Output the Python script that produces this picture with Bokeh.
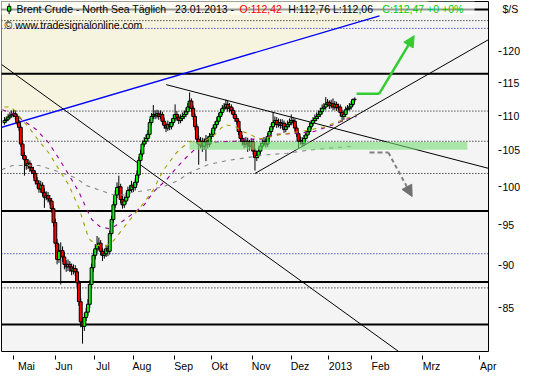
from bokeh.plotting import figure
from bokeh.models import (Range1d, FixedTicker, CustomJSTickFormatter, Label, Arrow,
                          NormalHead)
from bokeh.embed import file_html
from bokeh.resources import INLINE

# ---------------- data ----------------
first_open = 109.0
closes = [109.3,109.5,109.8,110.0,110.2,110.3,109.9,109.0,108.3,105.9,
          104.3,103.7,102.9,103.2,102.6,102.2,101.8,100.8,100.4,99.7,
          100.2,99.2,98.6,98.8,98.4,98.1,97.1,95.3,92.7,90.7,
          91.7,91.8,91.0,90.1,89.8,90.1,89.8,89.3,89.6,89.2,
          87.9,85.7,83.4,82.9,83.9,84.5,85.4,87.7,89.7,91.2,
          92.0,92.4,92.7,91.7,91.2,91.4,92.0,91.7,93.9,95.7,
          97.6,98.9,99.9,100.0,98.3,97.6,98.1,98.6,99.5,99.6,
          100.2,99.9,100.6,101.6,103.6,104.5,105.9,106.3,106.7,107.3,
          109.0,109.9,110.2,110.0,110.3,109.9,110.2,109.2,108.6,108.2,
          108.7,108.4,109.0,109.6,110.2,109.8,109.3,109.6,109.9,110.2,
          110.6,111.3,112.2,111.1,109.9,108.4,106.6,105.9,106.3,105.6,
          106.2,106.6,105.9,107.0,107.3,108.2,108.7,109.2,109.9,110.5,
          111.1,111.3,111.7,111.1,111.3,110.8,110.2,109.6,109.2,107.7,
          106.7,106.3,105.9,106.3,106.0,105.6,106.2,104.9,104.0,104.3,
          104.9,105.6,106.0,106.3,105.9,107.0,107.7,108.4,109.0,109.3,
          108.7,109.0,108.6,108.9,108.0,108.4,108.7,109.0,109.3,109.2,
          108.2,107.4,106.3,106.4,106.0,106.7,107.2,107.7,108.4,108.9,
          109.3,109.6,109.9,110.2,110.6,111.1,111.3,111.7,112.0,111.5,
          111.8,111.3,111.7,111.2,111.3,110.5,109.9,110.2,110.9,111.1,
          111.3,111.7,112.42,112.47]
highs = [109.8,109.9,110.3,110.6,110.8,111.0,110.8,110.3,109.4,108.6,
         106.4,104.8,104.2,103.8,103.6,103.0,102.7,102.2,101.3,100.9,
         100.8,100.6,99.8,99.4,99.3,98.9,98.5,97.5,95.8,93.2,
         92.6,92.8,92.3,91.6,90.6,90.7,90.5,90.2,90.1,90.0,
         89.6,88.2,86.1,83.9,84.4,85.0,86.0,88.2,90.2,91.8,
         92.6,93.6,93.4,93.1,92.1,92.0,92.5,92.4,94.3,96.2,
         98.1,99.5,100.6,101.5,100.4,98.8,98.7,99.2,100.0,100.2,
         100.8,100.6,101.1,102.2,104.1,105.1,106.4,106.9,107.3,107.9,
         109.5,110.4,111.6,110.8,110.9,110.8,110.8,110.6,109.7,109.0,
         109.3,109.1,109.6,110.2,111.7,110.7,110.2,110.2,110.5,110.8,
         111.2,111.9,113.5,112.6,111.5,110.3,108.8,107.1,106.9,106.8,
         106.7,107.2,107.0,107.5,107.9,108.7,109.2,109.8,110.4,111.0,
         111.6,111.9,112.4,112.2,111.9,111.7,111.2,110.6,110.0,109.6,
         108.1,107.2,106.8,106.9,106.8,106.5,106.7,106.6,105.3,105.0,
         105.4,106.1,106.6,106.9,106.8,107.5,108.2,109.0,110.6,109.9,
         109.8,109.6,109.5,109.5,109.3,109.0,109.3,109.6,110.2,109.8,
         109.6,108.6,107.8,107.0,106.9,107.2,107.7,108.2,109.0,109.4,
         109.8,110.2,110.5,110.8,111.2,111.7,111.9,112.8,112.5,112.3,
         112.4,112.6,112.2,112.1,111.8,111.7,110.9,110.7,111.4,111.6,
         111.9,112.2,112.6,112.76]
lows = [108.7,109.0,109.2,109.5,109.7,109.8,109.4,108.6,107.8,105.5,
        103.8,101.5,102.3,102.4,102.0,101.7,101.2,100.3,99.8,99.2,
        99.2,98.7,97.2,98.2,97.9,97.6,96.6,94.8,92.2,90.1,
        90.3,87.7,90.4,89.5,89.2,89.3,89.2,88.8,88.9,88.7,
        87.4,85.2,82.8,81.0,82.4,83.5,84.1,85.0,87.3,89.2,
        90.7,91.5,91.8,91.2,90.5,90.8,91.0,91.1,91.3,93.5,
        95.3,97.2,98.5,99.3,97.8,97.1,97.2,97.7,98.2,99.0,
        99.2,99.3,99.5,100.2,101.2,103.2,104.1,105.5,105.9,106.3,
        106.9,108.6,109.5,109.5,109.6,109.4,109.5,108.7,108.1,107.6,
        107.8,107.9,108.0,108.6,109.2,109.3,108.8,108.9,109.2,109.5,
        109.8,110.2,110.9,110.6,109.4,107.9,106.0,103.0,105.3,104.8,
        105.1,103.5,105.3,105.5,106.6,106.9,107.8,108.3,108.8,109.5,
        110.1,110.7,110.9,110.6,110.5,110.3,109.7,109.1,108.7,107.2,
        106.2,105.7,105.3,105.4,104.8,105.0,105.1,104.4,102.2,103.5,
        103.9,104.5,105.2,105.6,105.4,105.5,106.6,107.3,108.0,108.6,
        108.2,108.3,108.1,108.2,107.5,107.6,108.0,108.3,108.6,108.7,
        107.7,106.9,105.2,105.8,105.5,105.6,106.3,106.8,107.3,108.0,
        108.5,109.0,109.2,109.5,109.8,110.2,110.8,110.9,111.3,111.0,
        111.1,110.8,110.9,110.7,110.8,109.9,109.1,109.4,109.8,110.5,
        110.8,110.9,111.4,112.06]

month_labels = ["Mai", "Jun", "Jul", "Aug", "Sep", "Okt", "Nov", "Dez", "2013", "Feb", "Mrz", "Apr"]
month_pos = [5.1, 28.0, 49.5, 70.9, 93.9, 113.8, 136.6, 158.0, 178.7, 202.4, 230.4, 261.7]
y_ticks = [85, 90, 95, 100, 105, 110, 115, 120]
unit_label = "$/S"
unit_label_pos = 126.9

thick_levels = [126.9, 116.4, 96.8, 88.0, 83.1]
dotted_black_levels = [125.0, 110.7, 106.3, 101.8, 87.3]
dotted_blue_levels = [123.7, 91.4]

ma_fast_x = [0, 3.8, 8.2, 13.7, 19.1, 24.6, 30.1, 35.5, 41.0, 46.4, 50.8, 56.3, 60.1, 64.5, 68.9,
             73.8, 77.0, 82.0, 87.4, 94.5, 97.3, 102.2, 107.7, 114.8, 121.3, 127.3, 131.1, 135.5,
             139.3, 143.7, 147.5, 153.0, 160.1, 167.8, 176.5, 184.2, 190.2, 194.0]
ma_fast_y = [111.3, 111.3, 109.9, 108.2, 106.3, 104.6, 102.3, 100.2, 97.2, 93.3, 92.4, 92.4, 93.0,
             94.3, 95.6, 97.0, 97.9, 99.6, 102.2, 104.6, 105.3, 106.3, 106.0, 107.0, 108.7, 108.4,
             107.7, 107.3, 106.7, 106.7, 107.0, 107.3, 107.6, 107.9, 108.4, 109.2, 109.8, 110.2]
ma_mid_x = [-1.1, 5.5, 10.9, 17.5, 24.6, 30.1, 35.5, 41.0, 45.4, 48.1, 52.5, 57.9, 63.4, 71.0, 77.0,
            82.0, 89.1, 94.5, 98.9, 103.8, 108.2, 117.5, 126.8, 133.9, 141.0, 148.6, 159.6, 170.5,
            181.4, 188.5, 194.0]
ma_mid_y = [110.9, 110.2, 109.2, 108.0, 106.0, 103.8, 101.6, 99.3, 97.0, 95.7, 94.8, 94.5, 95.2,
            96.5, 97.6, 99.3, 100.9, 102.5, 103.7, 104.9, 105.9, 106.2, 106.3, 106.6, 106.6, 107.3,
            107.4, 107.7, 108.7, 109.5, 109.9]
ma_slow_x = [-1.6, 4.4, 19.1, 30.1, 39.3, 44.8, 51.9, 60.1, 65.6, 71.0, 78.1, 87.4, 96.2, 101.1,
             112.0, 123.0, 133.9, 144.8, 155.7, 166.7, 177.6, 192.9]
ma_slow_y = [102.3, 102.9, 102.9, 102.0, 101.2, 100.2, 99.6, 98.9, 98.9, 99.3, 99.5, 100.0, 100.9,
             101.8, 103.0, 103.6, 104.0, 104.4, 104.6, 105.0, 105.3, 105.6]

support_x, support_y = [138.0, 266.7], [101.8, 121.85]
resist_x, resist_y = [89.1, 266.7], [114.7, 102.5]
fall_x, fall_y = [-1.64, 226.8], [117.85, 78.8]
blue_x, blue_y = [-8.2, 206.6], [107.8, 125.8]
beige_x = [-5, 28.8, 253.4, -5]
beige_y = [110.7, 110.7, 130.1, 130.1]
band_x, band_y = [102.0, 255.0], [105.1, 106.2]
up_arrow_x, up_arrow_y = [194.0, 206.4, 225.7], [113.3, 113.3, 122.5]
down_arrow_x, down_arrow_y = [201.1, 211.5, 224.6], [104.7, 104.7, 98.7]

# ---------------- figure ----------------
FONT = "Liberation Sans"
FS = "10.5px"
p = figure(frame_width=487, frame_height=350, min_border_left=1, min_border_top=1,
           min_border_right=38, min_border_bottom=20,
           x_range=Range1d(-1.64, 266.67), y_range=Range1d(80.15, 128.25),
           y_axis_type="log", y_axis_location="right",
           output_backend="svg", toolbar_location=None)
p.background_fill_color = "#f4f4f4"
p.border_fill_color = "white"
p.outline_line_color = "black"
p.outline_line_width = 1
p.xgrid.visible = False
p.ygrid.visible = False

# beige zone
p.patch(beige_x, beige_y, fill_color="#f6f4de", line_color=None)

xmin, xmax = -5, 275
for lv in dotted_black_levels:
    p.line([xmin, xmax], [lv, lv], line_color="black", line_width=1, line_dash="1 2")
for lv in dotted_blue_levels:
    p.line([xmin, xmax], [lv, lv], line_color="#0000cc", line_width=1, line_dash="1 2")
for lv in thick_levels:
    p.line([xmin, xmax], [lv, lv], line_color="black", line_width=2)

# trend lines
p.line(blue_x, blue_y, line_color="#0000ff", line_width=1.3)
p.line(fall_x, fall_y, line_color="black", line_width=1)
p.line(resist_x, resist_y, line_color="black", line_width=1)
p.line(support_x, support_y, line_color="black", line_width=1)

# candles
n = len(closes)
xs = list(range(n))
opens = [first_open] + closes[:-1]
p.segment(xs, lows, xs, highs, line_color="black", line_width=1)
tops = [max(o, c) for o, c in zip(opens, closes)]
bots = [min(o, c) for o, c in zip(opens, closes)]
cols = ["#00ff00" if c >= o else "#ff0000" for o, c in zip(opens, closes)]
p.vbar(x=xs, width=1.6, top=tops, bottom=bots, fill_color=cols, line_color="black", line_width=1)

# moving averages
p.line(ma_slow_x, ma_slow_y, line_color="#888888", line_width=1.1, line_dash="4 5")
p.line(ma_mid_x, ma_mid_y, line_color="#990099", line_width=1.1, line_dash="4 5")
p.line(ma_fast_x, ma_fast_y, line_color="#a0a000", line_width=1.1, line_dash="4 5")

# green band
p.quad(left=band_x[0], right=band_x[1], bottom=band_y[0], top=band_y[1],
       fill_color="#77dd77", fill_alpha=0.6, line_color=None)

# arrows
p.line(up_arrow_x[:2], up_arrow_y[:2], line_color="#33cc33", line_width=2.5)
p.add_layout(Arrow(end=NormalHead(size=11, fill_color="#33cc33", line_color="#33cc33"),
                   x_start=up_arrow_x[1], y_start=up_arrow_y[1],
                   x_end=up_arrow_x[2], y_end=up_arrow_y[2],
                   line_color="#33cc33", line_width=2.5))
p.line(down_arrow_x[:2], down_arrow_y[:2], line_color="#808080", line_width=2, line_dash="5 3")
p.add_layout(Arrow(end=NormalHead(size=11, fill_color="#707070", line_color="#707070"),
                   x_start=down_arrow_x[1], y_start=down_arrow_y[1],
                   x_end=down_arrow_x[2], y_end=down_arrow_y[2],
                   line_color="#808080", line_width=2, line_dash="4 3"))

# legend box
p.quad(left=-5, right=259.0, bottom=126.0, top=132.0, fill_color="white", fill_alpha=0.6,
       line_color=None)
p.segment([2.57], [126.1], [2.57], [127.9], line_color="black", line_width=1)
p.quad(left=1.7, right=3.5, bottom=126.6, top=127.4, fill_color="#00ff00", line_color="black")

def u(px):
    return (px - 5) / 1.83

legend_parts = [("Brent Crude - North Sea Täglich", 17, "black"),
                ("23.01.2013 -", 177, "black"),
                ("O:112,42", 242, "#ff0000"),
                ("H:112,76 L:112,06", 291, "black"),
                ("C:112,47 +0 +0%", 386, "#00cc00")]
for txt, px, col in legend_parts:
    p.add_layout(Label(x=u(px), y=126.9, text=txt, text_font=FONT, text_font_size=FS,
                       text_color=col, text_baseline="middle"))
p.add_layout(Label(x=u(5), y=124.2, text="© www.tradesignalonline.com", text_font=FONT,
                   text_font_size=FS, text_color="black", text_baseline="middle"))

# axes
NB = "\u00a0"
x_names = [NB * (2 * len(m)) + m for m in month_labels]   # left-align labels next to their ticks
xa = p.xaxis[0]
xa.ticker = FixedTicker(ticks=month_pos)
xa.formatter = CustomJSTickFormatter(args=dict(pos=month_pos, names=x_names),
                                     code="const i = pos.indexOf(tick); return i >= 0 ? names[i] : '';")
xa.axis_line_color = None
xa.major_tick_in = -4
xa.major_tick_out = 8
xa.major_tick_line_color = "black"
xa.minor_tick_line_color = None
xa.major_label_standoff = 0
xa.major_label_text_font = FONT
xa.major_label_text_font_size = FS
xa.major_label_text_color = "black"

y_pos = y_ticks + [unit_label_pos]
y_names = [str(t) for t in y_ticks] + [unit_label]
ya = p.yaxis[0]
ya.ticker = FixedTicker(ticks=y_pos, minor_ticks=y_ticks)
ya.formatter = CustomJSTickFormatter(args=dict(pos=y_pos, names=y_names),
                                     code="const i = pos.indexOf(tick); return i >= 0 ? names[i] : '';")
ya.axis_line_color = None
ya.major_tick_in = 0
ya.major_tick_out = 13
ya.major_tick_line_color = None
ya.minor_tick_in = -10
ya.minor_tick_out = 13
ya.minor_tick_line_color = "black"
ya.major_label_standoff = 1
ya.major_label_text_font = FONT
ya.major_label_text_font_size = FS
ya.major_label_text_color = "black"

open("out.html", "w").write(file_html(p, INLINE))
